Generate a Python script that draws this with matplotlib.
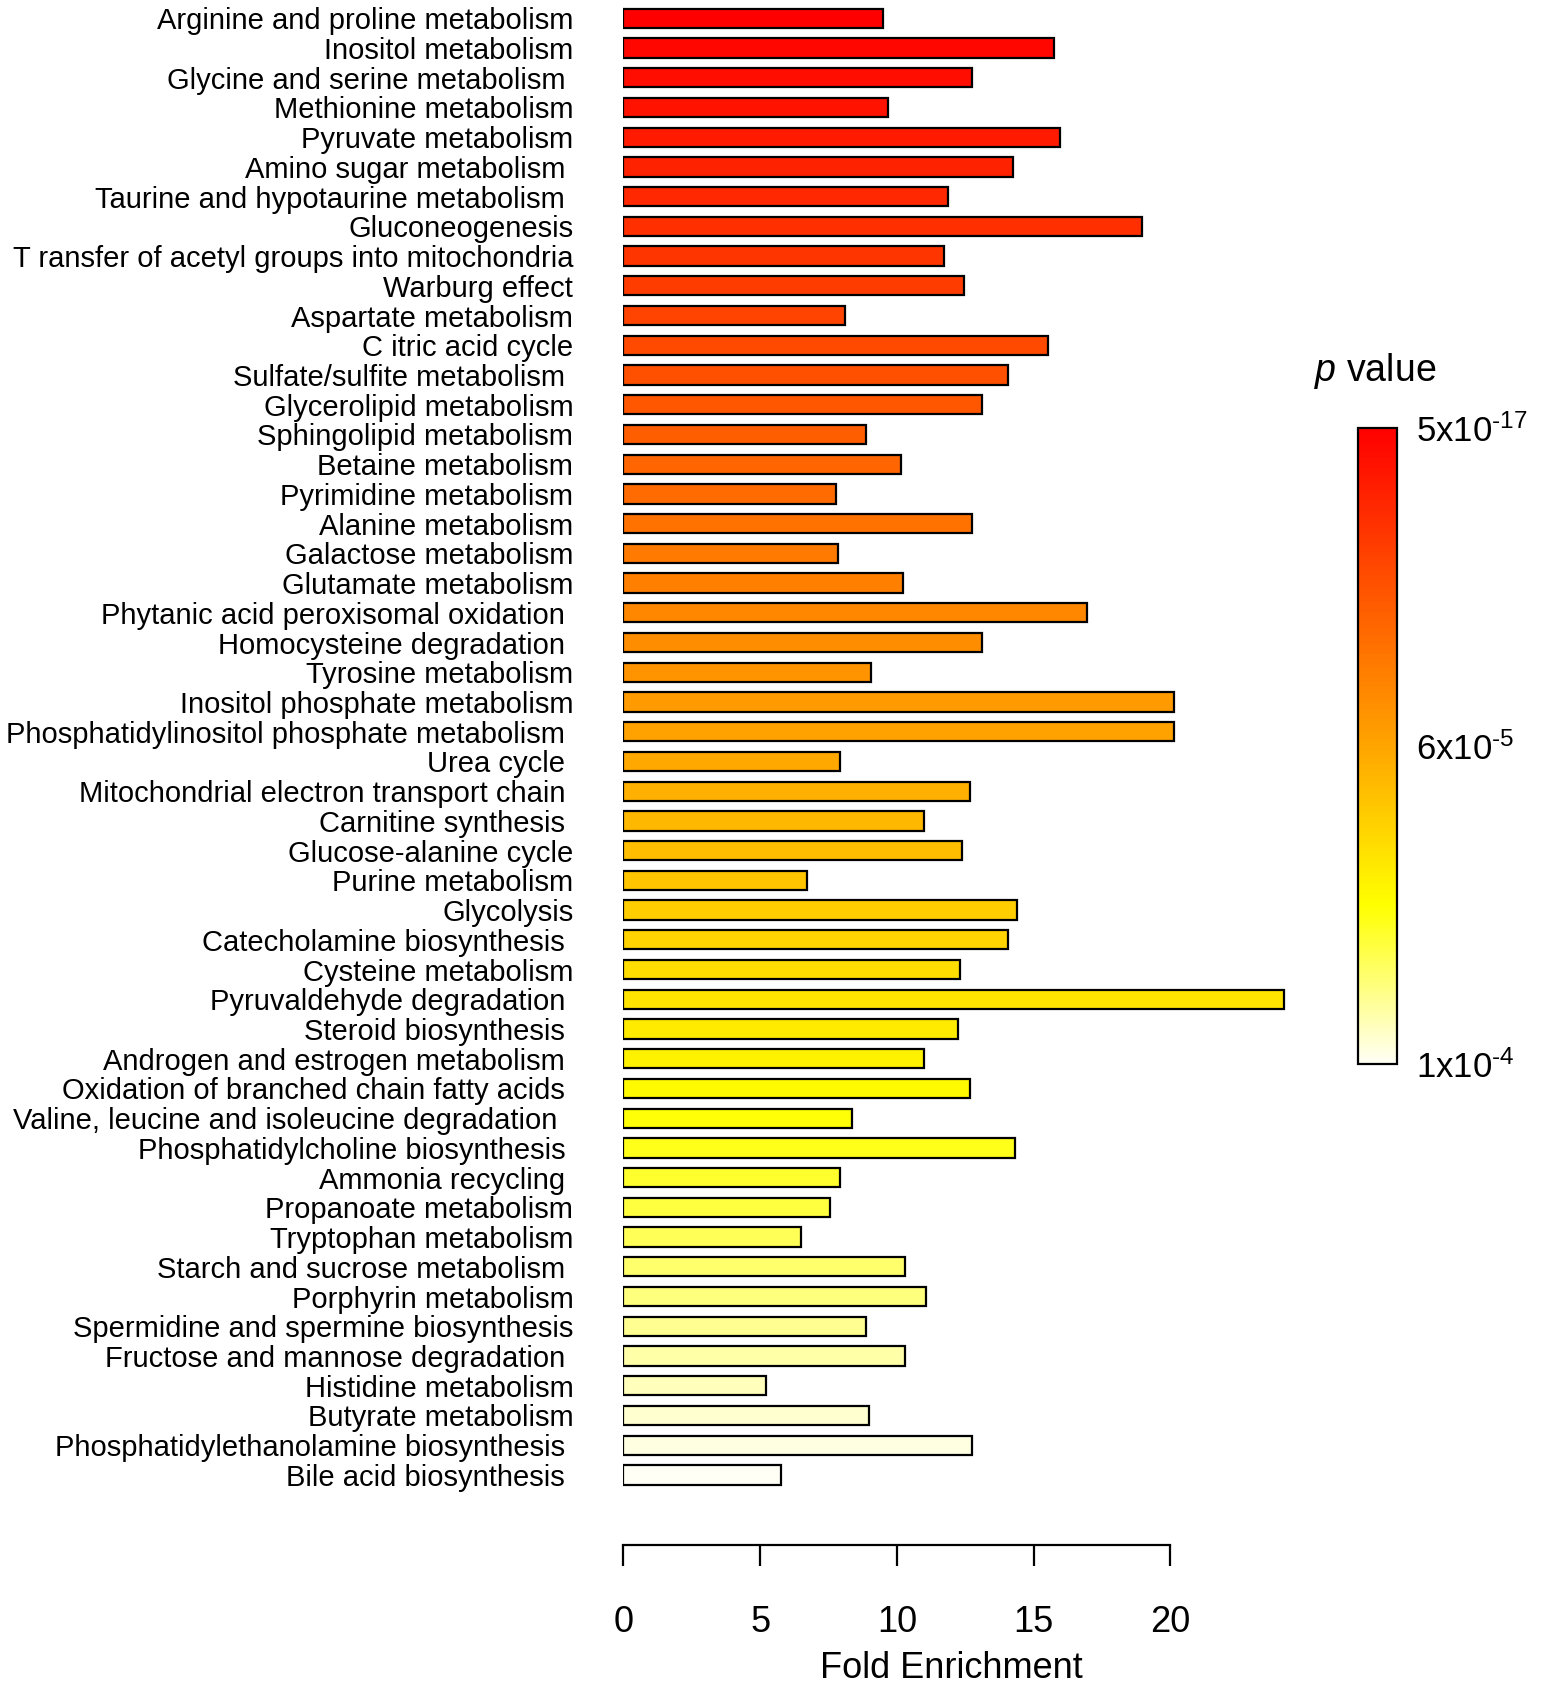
import numpy as np
import matplotlib
matplotlib.use('Agg')
import matplotlib.pyplot as plt
from matplotlib.colors import LinearSegmentedColormap, TwoSlopeNorm
from matplotlib.cm import ScalarMappable

plt.rcParams['font.family'] = ['Liberation Sans', 'DejaVu Sans']
plt.rcParams['mathtext.fontset'] = 'custom'
plt.rcParams['mathtext.rm'] = 'Liberation Sans'
plt.rcParams['mathtext.it'] = 'Liberation Sans:italic'

# pathways, top to bottom
pathways = [
    'Arginine and proline metabolism', 'Inositol metabolism', 'Glycine and serine metabolism ',
    'Methionine metabolism', 'Pyruvate metabolism', 'Amino sugar metabolism ',
    'Taurine and hypotaurine metabolism ', 'Gluconeogenesis', 'T ransfer of acetyl groups into mitochondria',
    'Warburg effect', 'Aspartate metabolism', 'C itric acid cycle',
    'Sulfate/sulfite metabolism ', 'Glycerolipid metabolism', 'Sphingolipid metabolism',
    'Betaine metabolism', 'Pyrimidine metabolism', 'Alanine metabolism',
    'Galactose metabolism', 'Glutamate metabolism', 'Phytanic acid peroxisomal oxidation ',
    'Homocysteine degradation ', 'Tyrosine metabolism', 'Inositol phosphate metabolism',
    'Phosphatidylinositol phosphate metabolism ', 'Urea cycle ', 'Mitochondrial electron transport chain ',
    'Carnitine synthesis ', 'Glucose-alanine cycle', 'Purine metabolism',
    'Glycolysis', 'Catecholamine biosynthesis ', 'Cysteine metabolism',
    'Pyruvaldehyde degradation ', 'Steroid biosynthesis ', 'Androgen and estrogen metabolism ',
    'Oxidation of branched chain fatty acids ', 'Valine, leucine and isoleucine degradation  ',
    'Phosphatidylcholine biosynthesis ', 'Ammonia recycling ', 'Propanoate metabolism',
    'Tryptophan metabolism', 'Starch and sucrose metabolism ', 'Porphyrin metabolism',
    'Spermidine and spermine biosynthesis', 'Fructose and mannose degradation ', 'Histidine metabolism',
    'Butyrate metabolism', 'Phosphatidylethanolamine biosynthesis ', 'Bile acid biosynthesis ',
]

fold_enrichment = [
    9.5, 15.74, 12.74, 9.66, 15.98, 14.24, 11.87, 18.97, 11.72, 12.47,
    8.09, 15.54, 14.08, 13.10, 8.88, 10.14, 7.77, 12.74, 7.85, 10.22,
    16.96, 13.10, 9.07, 20.12, 20.12, 7.93, 12.66, 11.0, 12.39, 6.71,
    14.4, 14.08, 12.31, 24.14, 12.23, 11.0, 12.66, 8.36, 14.32, 7.93,
    7.57, 6.51, 10.3, 11.08, 8.88, 10.3, 5.21, 8.99, 12.74, 5.76,
]

# estimated p values (from bar colour)
p_values = [
    5e-17, 2.45e-6, 4.9e-6, 7.35e-6, 9.8e-6, 1.22e-5, 1.47e-5, 1.71e-5, 1.96e-5, 2.2e-5,
    2.45e-5, 2.69e-5, 2.94e-5, 3.18e-5, 3.43e-5, 3.67e-5, 3.92e-5, 4.16e-5, 4.41e-5, 4.65e-5,
    4.9e-5, 5.14e-5, 5.39e-5, 5.63e-5, 5.88e-5, 6.08e-5, 6.24e-5, 6.41e-5, 6.57e-5, 6.73e-5,
    6.9e-5, 7.06e-5, 7.22e-5, 7.39e-5, 7.55e-5, 7.71e-5, 7.88e-5, 8.04e-5, 8.2e-5, 8.37e-5,
    8.53e-5, 8.69e-5, 8.86e-5, 9.02e-5, 9.18e-5, 9.35e-5, 9.51e-5, 9.67e-5, 9.84e-5, 1e-4,
]

cbar_ticks = [5e-17, 6e-5, 1e-4]
cbar_labels = ['$\\mathregular{5x10^{\u201017}}$', '$\\mathregular{6x10^{\u20105}}$',
               '$\\mathregular{1x10^{\u20104}}$']
x_ticks = [0, 5, 10, 15, 20]

cmap = LinearSegmentedColormap.from_list(
    'heat', [(0, '#FF0000'), (0.5, '#FFA500'), (0.75, '#FFFF00'), (1, '#FFFFF5')])
norm = TwoSlopeNorm(vmin=5e-17, vcenter=6e-5, vmax=1e-4)

fig = plt.figure(figsize=(15.53, 16.96), dpi=100)
ax = fig.add_axes([0.4014, 0.089, 0.4403, 0.909])

y = np.arange(len(pathways))
ax.barh(y, fold_enrichment, height=0.65, color=cmap(norm(np.array(p_values))),
        edgecolor='black', linewidth=1.6)
ax.set_ylim(51.36, -0.5)
ax.set_xlim(0, 25)

ax.set_yticks(y)
ax.set_yticklabels(pathways, fontsize=21)
ax.tick_params(axis='y', length=0, pad=36)

for s in ['top', 'right', 'left']:
    ax.spines[s].set_visible(False)
ax.spines['bottom'].set_bounds(0, 20)
ax.spines['bottom'].set_linewidth(1.6)
ax.set_xticks(x_ticks)
ax.tick_params(axis='x', length=15, width=1.6, labelsize=26, pad=28)
ax.set_xlabel('Fold Enrichment', fontsize=26, labelpad=8, x=0.48)

# colour bar
cax = fig.add_axes([0.8743, 0.3725, 0.025, 0.375])
cb = fig.colorbar(ScalarMappable(norm=norm, cmap=cmap), cax=cax)
cb.outline.set_linewidth(1.6)
cax.invert_yaxis()
cb.set_ticks(cbar_ticks)
cb.set_ticklabels(cbar_labels)
cax.tick_params(length=0, labelsize=25, pad=14)
cax.text(0.45, 1.09, r'$\mathit{p}$ value', transform=cax.transAxes,
         fontsize=27, ha='center', va='center')

fig.savefig('out.png', dpi=100)
